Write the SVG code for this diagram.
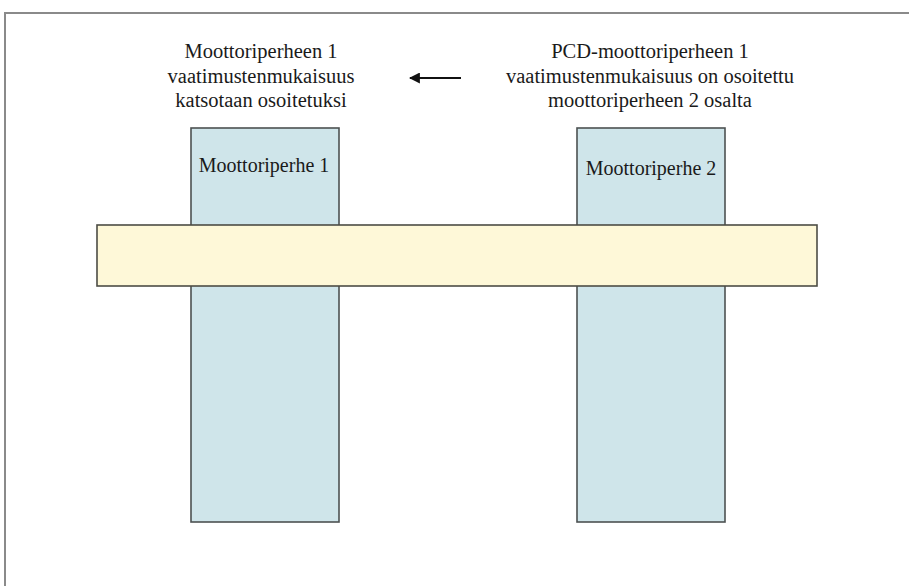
<svg xmlns="http://www.w3.org/2000/svg" width="909" height="586" viewBox="0 0 909 586">
  <style>
    .txt { font-family: "Liberation Serif", "DejaVu Serif", serif; fill: #1a1a1a; text-anchor: middle; }
    .title { font-size: 20.5px; }
    .label { font-size: 20px; }
    .pillar { fill: #cfe5ea; stroke: #4d5252; stroke-width: 1.6; }
    .bar { fill: #fef8d8; stroke: #4d4d45; stroke-width: 1.6; }
    .frame { fill: none; stroke: #8a8a8a; stroke-width: 2; }
  </style>
  <defs>
    <marker id="head" viewBox="0 0 10 10" refX="9" refY="5" markerWidth="5" markerHeight="5" orient="auto-start-reverse" markerUnits="strokeWidth">
      <path d="M0,0 L10,5 L0,10 z" fill="#111"/>
    </marker>
  </defs>

  <rect width="909" height="586" fill="#ffffff"/>
  <!-- outer frame (top and left edges visible) -->
  <path class="frame" d="M5,600 V13 H920"/>

  <!-- headings -->
  <g id="heading-left">
    <text class="txt title" x="261" y="58">Moottoriperheen 1</text>
    <text class="txt title" x="261" y="83">vaatimustenmukaisuus</text>
    <text class="txt title" x="261" y="107">katsotaan osoitetuksi</text>
  </g>
  <g id="heading-right">
    <text class="txt title" x="650" y="58">PCD-moottoriperheen 1</text>
    <text class="txt title" x="650" y="83">vaatimustenmukaisuus on osoitettu</text>
    <text class="txt title" x="650" y="107">moottoriperheen 2 osalta</text>
  </g>

  <!-- family pillars -->
  <g id="family-1">
    <rect class="pillar" x="191" y="128" width="148" height="394"/>
    <text class="txt label" x="264" y="172">Moottoriperhe 1</text>
  </g>
  <g id="family-2">
    <rect class="pillar" x="577" y="128" width="148" height="394"/>
    <text class="txt label" x="651" y="175">Moottoriperhe 2</text>
  </g>

  <!-- shared band across both families -->
  <g id="band">
    <rect class="bar" x="97" y="225" width="720" height="61"/>
  </g>

  <g id="connectors">
    <line x1="461" y1="78" x2="410" y2="78" stroke="#111" stroke-width="2.2" marker-end="url(#head)"/>
  </g>
</svg>
